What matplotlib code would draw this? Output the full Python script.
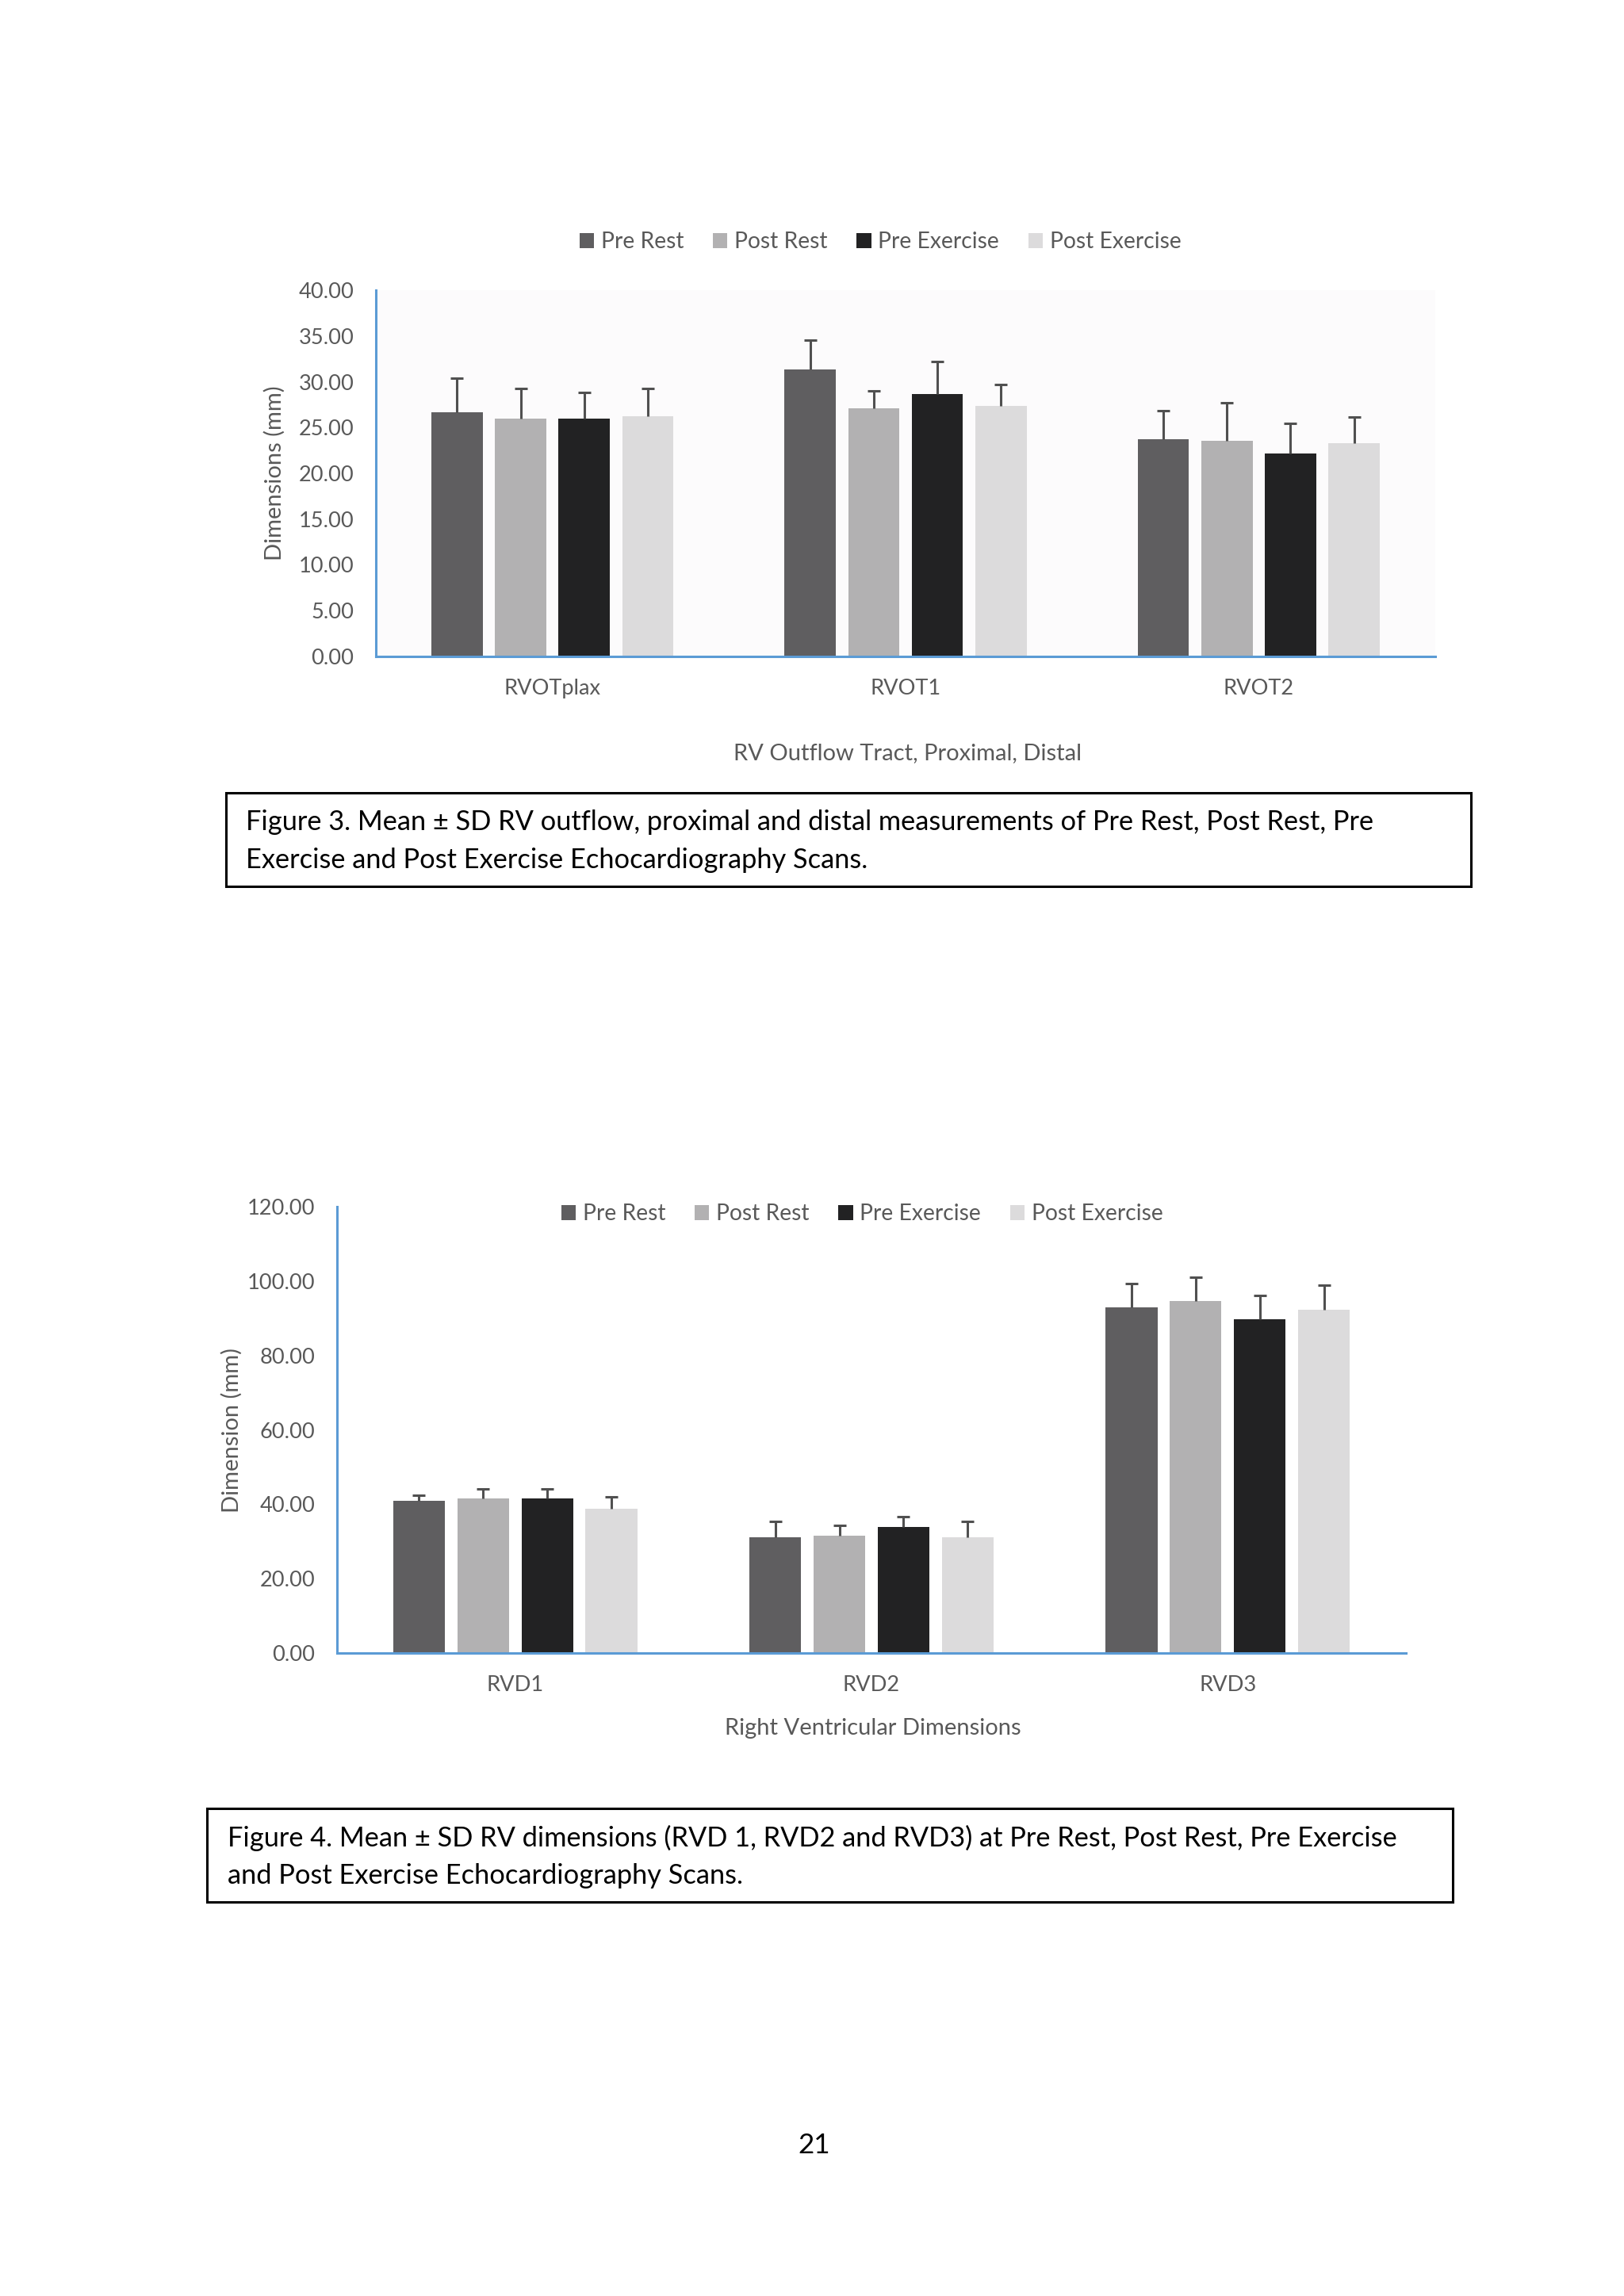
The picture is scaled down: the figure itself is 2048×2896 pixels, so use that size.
import numpy as np
import matplotlib
matplotlib.use('Agg')
import matplotlib.pyplot as plt
import matplotlib.patches as mpatches

plt.rcParams['font.family'] = ['Lato', 'DejaVu Sans']

SERIES = ['Pre Rest', 'Post Rest', 'Pre Exercise', 'Post Exercise']
COLORS = ['#5f5e60', '#b2b1b2', '#222223', '#dcdbdc']

# Figure 3 - RV outflow
rvot_cats = ['RVOTplax', 'RVOT1', 'RVOT2']
rvot_pre_rest = [26.67, 31.36, 23.75]
rvot_post_rest = [25.98, 27.08, 23.51]
rvot_pre_ex = [25.98, 28.65, 22.18]
rvot_post_ex = [26.22, 27.32, 23.31]
rvot_sd_pre_rest = [3.73, 3.22, 3.05]
rvot_sd_post_rest = [3.29, 1.95, 4.18]
rvot_sd_pre_ex = [2.81, 3.53, 3.29]
rvot_sd_post_ex = [3.05, 2.40, 2.81]
rvot_ticks = [0, 5, 10, 15, 20, 25, 30, 35, 40]

# Figure 4 - RV dimensions
rvd_cats = ['RVD1', 'RVD2', 'RVD3']
rvd_pre_rest = [41.0, 31.06, 92.84]
rvd_post_rest = [41.54, 31.60, 94.61]
rvd_pre_ex = [41.54, 33.82, 89.64]
rvd_post_ex = [38.87, 31.06, 92.39]
rvd_sd_pre_rest = [1.5, 4.26, 6.57]
rvd_sd_post_rest = [2.66, 2.66, 6.48]
rvd_sd_pre_ex = [2.66, 2.75, 6.48]
rvd_sd_post_ex = [3.1, 4.26, 6.48]
rvd_ticks = [0, 20, 40, 60, 80, 100, 120]

W, H = 2048, 2896
DPI = 200
TXT = '#595959'
AXBLUE = '#5b9bd5'


def fx(px):
    return px / W


def fy(py):
    return 1 - py / H


def draw_chart(fig, rect, cats, vals, sds, ticks, ylabel, xlabel,
               ylabel_x, xlabel_y, legend_y, legend_x, bg):
    ax = fig.add_axes(rect)
    ax.set_facecolor(bg)
    x = np.arange(len(cats))
    w = 0.145
    step = 0.18
    handles = []
    for i, (v, sd) in enumerate(zip(vals, sds)):
        pos = x + (i - 1.5) * step
        b = ax.bar(pos, v, w, color=COLORS[i], label=SERIES[i], zorder=2)
        handles.append(b)
        _, caps, _ = ax.errorbar(pos, v, yerr=[np.zeros(len(v)), sd], fmt='none',
                                 ecolor='#505050', elinewidth=1.1, capsize=2.9,
                                 capthick=1.1, zorder=3)
        caps[0].set_visible(False)
    ax.set_xlim(-0.5, len(cats) - 0.5)
    ax.set_ylim(ticks[0], ticks[-1])
    ax.set_yticks(ticks)
    ax.set_yticklabels([f'{t:.2f}' for t in ticks])
    ax.set_xticks(x)
    ax.set_xticklabels(cats)
    ax.tick_params(axis='both', length=0, colors=TXT, labelsize=9.8)
    ax.tick_params(axis='y', pad=10)
    ax.tick_params(axis='x', pad=10)
    for s in ['top', 'right']:
        ax.spines[s].set_visible(False)
    for s in ['left', 'bottom']:
        ax.spines[s].set_color(AXBLUE)
        ax.spines[s].set_linewidth(1.1)
    ax.spines['bottom'].set_zorder(4)
    fig.text(fx(ylabel_x), rect[1] + rect[3] / 2, ylabel, rotation=90,
             ha='center', va='center', color=TXT, fontsize=10.5)
    fig.text(rect[0] + rect[2] / 2 + 0.001, fy(xlabel_y), xlabel, ha='center',
             va='center', color=TXT, fontsize=10.5)
    fig.legend(handles=handles, loc='center', bbox_to_anchor=(fx(legend_x), fy(legend_y)),
               ncol=4, frameon=False, fontsize=10.2, handlelength=0.65,
               handleheight=0.65, handletextpad=0.3, columnspacing=1.3,
               labelcolor=TXT)
    return ax


def caption(fig, x0, y0, x1, y1, lines, tx, ty):
    rect = mpatches.Rectangle((fx(x0), fy(y1)), fx(x1 - x0), (y1 - y0) / H,
                              transform=fig.transFigure, fill=False,
                              edgecolor='black', linewidth=1.1)
    fig.patches.append(rect)
    for line, yy in zip(lines, ty):
        fig.text(fx(tx), fy(yy), line, ha='left', va='center',
                 fontsize=12.4, color='black')


fig = plt.figure(figsize=(W / DPI, H / DPI), dpi=DPI)

draw_chart(fig, [fx(474), fy(828), fx(1810 - 474), 462 / H], rvot_cats,
           [rvot_pre_rest, rvot_post_rest, rvot_pre_ex, rvot_post_ex],
           [rvot_sd_pre_rest, rvot_sd_post_rest, rvot_sd_pre_ex, rvot_sd_post_ex],
           rvot_ticks, 'Dimensions (mm)', 'RV Outflow Tract, Proximal, Distal',
           346, 950, 305, 1110, '#fcfbfc')

caption(fig, 285, 1000, 1855, 1118,
        ['Figure 3. Mean \u00b1 SD RV outflow, proximal and distal measurements of Pre Rest, Post Rest, Pre',
         'Exercise and Post Exercise Echocardiography Scans.'],
        310, [1037, 1085])

draw_chart(fig, [fx(425), fy(2085), fx(1773 - 425), 563 / H], rvd_cats,
           [rvd_pre_rest, rvd_post_rest, rvd_pre_ex, rvd_post_ex],
           [rvd_sd_pre_rest, rvd_sd_post_rest, rvd_sd_pre_ex, rvd_sd_post_ex],
           rvd_ticks, 'Dimension (mm)', 'Right Ventricular Dimensions',
           292, 2180, 1531, 1087, 'white')

caption(fig, 261, 2281, 1832, 2399,
        ['Figure 4. Mean \u00b1 SD RV dimensions (RVD 1, RVD2 and RVD3) at Pre Rest, Post Rest, Pre Exercise',
         'and Post Exercise Echocardiography Scans.'],
        287, [2318, 2366])

fig.text(fx(1027), fy(2706), '21', ha='center', va='center', fontsize=12.6, color='black')

fig.savefig('out.png', dpi=DPI, facecolor='white')
